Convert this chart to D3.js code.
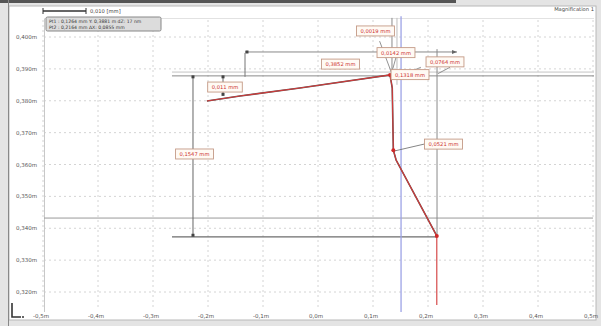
<!DOCTYPE html>
<html><head><meta charset="utf-8">
<script src="https://cdn.jsdelivr.net/npm/d3@7/dist/d3.min.js"></script>
<style>body{margin:0;background:#e6e6e6;}svg{display:block;font-family:"DejaVu Sans",sans-serif;}</style>
</head><body>
<svg id="c" width="601" height="326"></svg>
<script>
// ---- data ----
const xTicks = [-0.5,-0.4,-0.3,-0.2,-0.1,0,0.1,0.2,0.3,0.4,0.5];
const xTickLabels = ["-0,5m","-0,4m","-0,3m","-0,2m","-0,1m","0,0m","0,1m","0,2m","0,3m","0,4m","0,5m"];
const yTicks = [0.40,0.39,0.38,0.37,0.36,0.35,0.34,0.33,0.32];
const yTickLabels = ["0,400m","0,390m","0,380m","0,370m","0,360m","0,350m","0,340m","0,330m","0,320m"];
const profileX = [-0.202,-0.142,-0.033,0.131,0.135,0.136,0.137,0.142,0.216,0.216];
const profileY = [0.3799,0.3815,0.3840,0.3881,0.3840,0.3740,0.3645,0.3614,0.3376,0.3159];
const markerX = [0.131,0.137,0.216];
const markerY = [0.3881,0.3645,0.3376];
const triX = [0.144], triY = [0.3874];
const labelText = ["0,0019 mm","0,0142 mm","0,1318 mm","0,0764 mm","0,0521 mm","0,3852 mm","0,011 mm","0,1547 mm"];
const labelX = [0.1045,0.1418,0.1673,0.2309,0.2282,0.0409,-0.1691,-0.2245];
const labelY = [0.4019,0.3951,0.3882,0.3922,0.3664,0.3915,0.3843,0.3633];
const cursorBlueX = 0.151;
const infoLines = ["Pt1 : 0,1264 mm   Y: 0,3881 m   dZ: 17 nm","Pt2 : 0,2164 mm   ΔX: 0,0855 mm"];
const scaleText = "0,010 [mm]";
const magText = "Magnification 1";

const svg = d3.select("#c");
const x = d3.scaleLinear().domain([-0.5,0.5]).range([43,593]);
const y = d3.scaleLinear().domain([0.32,0.40]).range([292,37]);

// frame
svg.append("rect").attr("x",0).attr("y",0).attr("width",601).attr("height",326).attr("fill","#e4e4e4");
svg.append("rect").attr("x",9).attr("y",6).attr("width",587).attr("height",314).attr("fill","#fff").attr("stroke","#b8b8b8");
svg.append("line").attr("x1",0).attr("x2",456).attr("y1",1.5).attr("y2",1.5).attr("stroke","#555").attr("stroke-width",3);
svg.append("line").attr("x1",8.5).attr("x2",8.5).attr("y1",0).attr("y2",326).attr("stroke","#888");

// plot border
svg.append("line").attr("x1",44.5).attr("x2",44.5).attr("y1",18).attr("y2",312).attr("stroke","#c8c8c8");
svg.append("line").attr("x1",44).attr("x2",594).attr("y1",18.5).attr("y2",18.5).attr("stroke","#e2e2e2");

// grid
const g = svg.append("g");
g.selectAll(".gx").data(xTicks).join("line").attr("x1",d=>x(d)).attr("x2",d=>x(d)).attr("y1",20).attr("y2",310)
  .attr("stroke","#c9c9c9").attr("stroke-dasharray","2,3").attr("stroke-width",0.8);
g.selectAll(".gy").data(yTicks).join("line").attr("x1",44).attr("x2",594).attr("y1",d=>y(d)).attr("y2",d=>y(d))
  .attr("stroke","#c9c9c9").attr("stroke-dasharray","2,3").attr("stroke-width",0.8);

// tick labels
svg.selectAll(".yl").data(yTicks).join("text").attr("x",37).attr("y",d=>y(d)+2)
  .attr("text-anchor","end").attr("font-size",5.5).attr("fill","#555").text((d,i)=>yTickLabels[i]);
svg.selectAll(".xl").data(xTicks).join("text").attr("x",d=>x(d)-2).attr("y",318)
  .attr("text-anchor","middle").attr("font-size",5.5).attr("fill","#555").text((d,i)=>xTickLabels[i]);

// construction lines
function ln(x1,y1,x2,y2,col,w){svg.append("line").attr("x1",x(x1)).attr("y1",y(y1)).attr("x2",x(x2)).attr("y2",y(y2)).attr("stroke",col).attr("stroke-width",w||1);}
ln(-0.2655,0.3890,0.5018,0.3890,"#c4c4c4",1);
ln(-0.2655,0.3878,0.5018,0.3878,"#8a8a8a",1);
ln(-0.498,0.3432,0.5,0.3432,"#9a9a9a",1);
ln(-0.2655,0.3373,0.2164,0.3373,"#6d6d6d",1.3);
ln(-0.2273,0.3875,-0.2273,0.3376,"#666",1);
ln(-0.1727,0.3878,-0.1727,0.3818,"#666",1);
ln(-0.1327,0.3950,-0.1327,0.3875,"#777",1);
ln(-0.1327,0.3953,0.2527,0.3953,"#888",1);
ln(0.2164,0.3962,0.2164,0.3376,"#8a8a8a",1);
ln(0.1345,0.4060,0.1345,0.3881,"#8a8a8a",1);
ln(0.1436,0.4060,0.1436,0.3850,"#bdbdbd",1);
ln(cursorBlueX,0.4065,cursorBlueX,0.3137,"#9da3e6",1.3);

// dimension end markers
const dimMk = [[-0.2273,0.3875],[-0.2273,0.3378],[-0.1727,0.3875],[-0.1727,0.3820],[-0.1291,0.3953]];
svg.selectAll(".dm").data(dimMk).join("rect").attr("x",d=>x(d[0])-1.5).attr("y",d=>y(d[1])-1.5)
  .attr("width",3).attr("height",3).attr("fill","#444");
// arrowheads near the right end of the horizontal dimension line
svg.append("path").attr("d",`M${x(0.2527)},${y(0.3953)} l-5,-2 l0,4 z`).attr("fill","#666");
svg.append("path").attr("d",`M${x(0.2545)},${y(0.3932)} l-4,1 l2,3 z`).attr("fill","#666");

// leader lines
ln(0.112,0.3987,0.1345,0.3884,"#777",0.8);
ln(0.1418,0.3936,0.1330,0.3882,"#777",0.8);
ln(0.1870,0.3905,0.1440,0.3874,"#777",0.8);
ln(0.2400,0.3905,0.2180,0.3885,"#777",0.8);
ln(0.1930,0.3664,0.1380,0.3642,"#666",0.8);

// profile
const pts = profileX.map((d,i)=>[x(d),y(profileY[i])]);
const line = d3.line();
svg.append("path").attr("d",line(pts.slice(0,9))).attr("fill","none").attr("stroke","#555").attr("stroke-width",1.6);
svg.append("path").attr("d",line(pts)).attr("fill","none").attr("stroke","#d23a3a").attr("stroke-width",1.1);
svg.selectAll(".mk").data(markerX).join("circle").attr("cx",d=>x(d)).attr("cy",(d,i)=>y(markerY[i])).attr("r",2).attr("fill","#d02828");
svg.selectAll(".tri").data(triX).join("path")
  .attr("d",(d,i)=>`M${x(d)-2.5},${y(triY[i])-2} l5,0 l-2.5,4 z`).attr("fill","#d02828");

// labels
const lg = svg.selectAll(".lab").data(labelText).join("g")
  .attr("transform",(d,i)=>`translate(${x(labelX[i])},${y(labelY[i])})`);
lg.each(function(d){
  const s = d3.select(this);
  const t = s.append("text").attr("text-anchor","middle").attr("y",2).attr("font-size",5.2).attr("fill","#cc3030").text(d);
  const w = t.node().getComputedTextLength()+8;
  s.insert("rect","text").attr("x",-w/2).attr("y",-5).attr("width",w).attr("height",10)
   .attr("fill","#fffaf4").attr("stroke","#c49a86").attr("stroke-width",0.9);
});

// header: scale bar
svg.append("line").attr("x1",43).attr("x2",86).attr("y1",11).attr("y2",11).attr("stroke","#333").attr("stroke-width",1.5);
svg.append("line").attr("x1",43).attr("x2",43).attr("y1",8).attr("y2",14).attr("stroke","#333");
svg.append("line").attr("x1",86).attr("x2",86).attr("y1",8).attr("y2",14).attr("stroke","#333");
svg.append("text").attr("x",90).attr("y",13).attr("font-size",5.2).attr("fill","#444").text(scaleText);
svg.append("text").attr("x",594).attr("y",11).attr("text-anchor","end").attr("font-size",5.2).attr("fill","#444").text(magText);

// info box
svg.append("rect").attr("x",46).attr("y",17).attr("width",115).attr("height",14).attr("rx",1.5)
  .attr("fill","#dcdcdc").attr("stroke","#888");
svg.selectAll(".info").data(infoLines).join("text").attr("x",49).attr("y",(d,i)=>23+i*6)
  .attr("font-size",4.6).attr("fill","#333").text(d=>d);

// axis icon
svg.append("path").attr("d","M12,303 L12,317 L21,317").attr("fill","none").attr("stroke","#333").attr("stroke-width",1.6);
svg.append("circle").attr("cx",23).attr("cy",317).attr("r",1).attr("fill","#333");
</script>
</body></html>
